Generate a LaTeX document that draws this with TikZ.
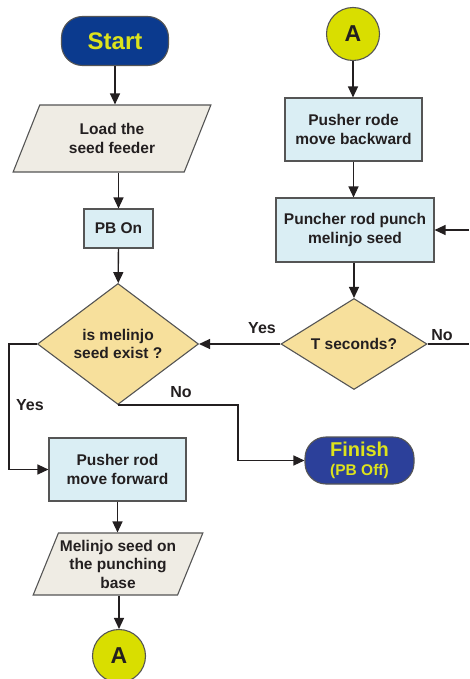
\documentclass[tikz,border=0pt]{standalone}
\usepackage{fontspec}
\setmainfont{Liberation Sans}
\usepackage{tikz}
\usetikzlibrary{shapes.geometric,arrows.meta}

\definecolor{ink}{HTML}{231F20}
\definecolor{edge}{HTML}{555555}
\definecolor{startblue}{HTML}{0B3A8E}
\definecolor{finishblue}{HTML}{2C409A}
\definecolor{signyellow}{HTML}{DDE31C}
\definecolor{boxblue}{HTML}{DAEEF4}
\definecolor{paper}{HTML}{EFECE4}
\definecolor{gold}{HTML}{F7E09C}
\definecolor{lime}{HTML}{D9DE00}

\tikzset{
	txt/.style={font=\fontsize{15.5}{18.5}\selectfont\bfseries, text=ink, align=center},
	procbox/.style={txt, rectangle, draw=edge, fill=boxblue, line width=1.1pt, inner sep=0pt},
	iobox/.style={txt, trapezium, trapezium stretches=true, draw=edge, fill=paper, line width=1.1pt, inner sep=0pt},
	decision/.style={txt, diamond, draw=edge, fill=gold, line width=1.1pt, inner sep=1pt},
	terminal/.style={rectangle, rounded corners=21pt, draw=edge, line width=1.1pt, text=signyellow, align=center},
	connector/.style={circle, draw=edge, fill=lime, line width=1.1pt, minimum size=53pt, text=ink, font=\fontsize{23}{26}\selectfont\bfseries},
	lbl/.style={font=\fontsize{16}{19}\selectfont\bfseries, text=ink},
	arr/.style={draw=ink, line width=1.3pt, -{Triangle[length=11pt,width=10pt]}}
}

\begin{document}
\begin{tikzpicture}[x=1pt, y=-1pt]
				\useasboundingbox (0,0) rectangle (469,679);
				
				% left column
				\node [terminal, fill=startblue, minimum width=107pt, minimum height=49pt, font=\fontsize{24}{28}\selectfont\bfseries] (start) at (115,41) {Start};
				\node [iobox, trapezium left angle=62, trapezium right angle=118, minimum width=198pt, minimum height=67pt] (load) at (112,138.5) {Load the\\seed feeder};
				\node [procbox, minimum width=69pt, minimum height=39pt] (pbon) at (118.5,228.5) {PB On};
				\node [decision, aspect=1.33, minimum width=161pt, minimum height=121pt] (exist) at (118,344) {is melinjo\\seed exist ?};
				\node [procbox, minimum width=137pt, minimum height=63pt] (fwd) at (117.5,469.5) {Pusher rod\\move forward};
				\node [iobox, trapezium left angle=63, trapezium right angle=117, minimum width=170pt, minimum height=62pt] (seedon) at (118,564) {Melinjo seed on\\the punching\\base};
				\node [connector] (a2) at (119,656) {A};
				
				% right column
				\node [connector] (a1) at (353,34) {A};
				\node [procbox, minimum width=137pt, minimum height=63pt] (back) at (353.5,129.5) {Pusher rode\\move backward};
				\node [procbox, minimum width=158pt, minimum height=64pt] (punch) at (355,230) {Puncher rod punch\\melinjo seed};
				\node [decision, aspect=1.6, minimum width=146pt, minimum height=91pt] (tsec) at (354,344) {T seconds?};
				\node [terminal, fill=finishblue, minimum width=109pt, minimum height=47pt, font=\fontsize{15.5}{19}\selectfont\bfseries] (finish) at (359.5,460.5) {{\fontsize{20}{20}\selectfont Finish}\\(PB Off)};
				
				\coordinate (yesbend) at (9,344);
				\coordinate (nobend) at (238,460.5);
				\coordinate (noend) at (469,344);
				\coordinate (loopin) at (469,230);
				
				\draw [arr] (start) -- (start |- load.north);
				\draw [arr] (pbon |- load.south) -- (pbon.north);
				\draw [arr] (pbon) -- (exist);
				\draw [arr] (exist.west) -- (yesbend) |- (fwd.west);
				\draw [arr] (exist.south) -| (nobend) -- (finish.west);
				\draw [arr] (fwd) -- (fwd |- seedon.north);
				\draw [arr] (a2 |- seedon.south) -- (a2);
				
				\draw [arr] (a1) -- (a1 |- back.north);
				\draw [arr] (back) -- (back |- punch.north);
				\draw [arr] (tsec |- punch.south) -- (tsec.north);
				\draw [arr] (tsec.west) -- (exist.east);
				\draw [draw=ink, line width=1.3pt] (tsec.east) -- (noend);
				\draw [arr] (loopin) -- (punch.east);
				
				\node [lbl] (yes1) at (262,328) {Yes};
				\node [lbl] (no1) at (442,335) {No};
				\node [lbl] (no2) at (181,392) {No};
				\node [lbl] (yes2) at (30,405) {Yes};
\end{tikzpicture}
\end{document}
